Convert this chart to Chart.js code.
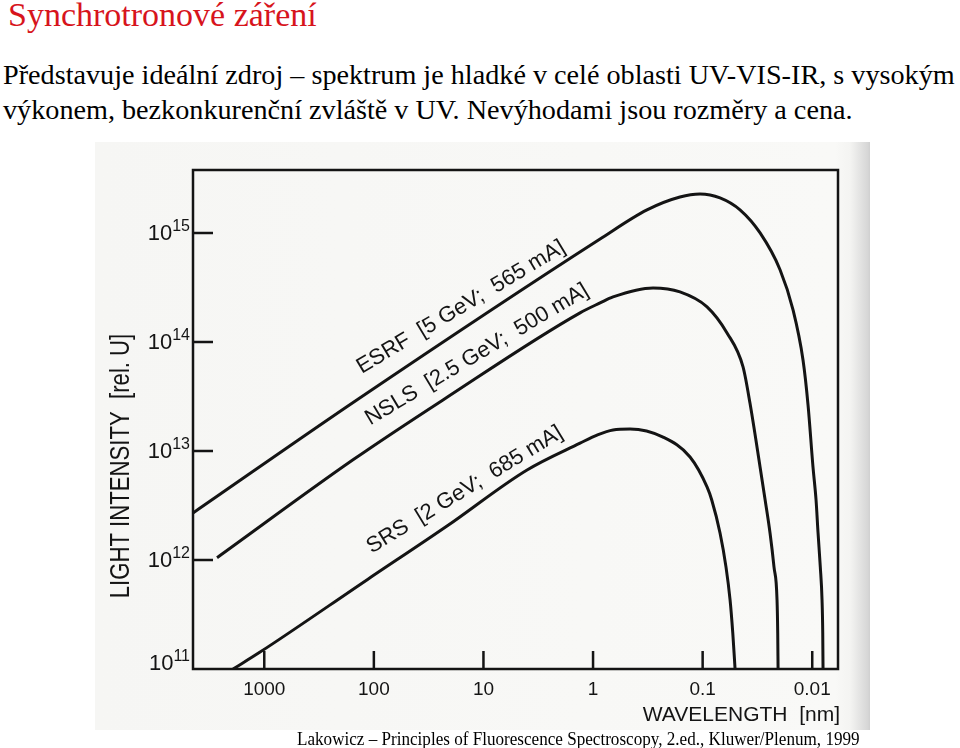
<!DOCTYPE html>
<html>
<head>
<meta charset="utf-8">
<script src="https://cdn.jsdelivr.net/npm/chart.js@4.4.1/dist/chart.umd.min.js"></script>
<style>
  html, body { margin: 0; padding: 0; background: #ffffff; }
  body { width: 960px; height: 748px; position: relative; overflow: hidden; }
  .serif { font-family: "Liberation Serif", "Times New Roman", Times, serif; position: absolute; white-space: nowrap; line-height: 1; }
  #title { left: 8px; top: -2px; font-size: 34px; color: #d7141c; }
  #p1 { left: 3px; top: 61px; font-size: 28.2px; color: #000; }
  #p2 { left: 3px; top: 96px; font-size: 28.2px; color: #000; }
  #scan { position: absolute; left: 95px; top: 142px; width: 775px; height: 588px;
          background: linear-gradient(to right, #f6f6f4 0px, #f9f9f7 740px, #f4f4f2 755px, #d6d6d6 773px, #cfcfcf 775px); }
  #wrap { position: absolute; left: 95px; top: 140px; width: 775px; height: 598px; }
  #caption { left: 297px; top: 729px; font-size: 19px; color: #000; transform: scaleX(0.9); transform-origin: 0 0; }
</style>
</head>
<body>
<div id="title" class="serif">Synchrotronové záření</div>
<div id="p1" class="serif">Představuje ideální zdroj – spektrum je hladké v celé oblasti UV-VIS-IR, s vysokým</div>
<div id="p2" class="serif">výkonem, bezkonkurenční zvláště v UV. Nevýhodami jsou rozměry a cena.</div>
<div id="scan"></div>
<div id="wrap"><canvas id="c" width="775" height="598"></canvas></div>
<div id="caption" class="serif">Lakowicz – Principles of Fluorescence Spectroscopy, 2.ed., Kluwer/Plenum, 1999</div>
<script>
// ---------- data (wavelength in nm, intensity in rel. units) ----------
const esrfWavelength = [4470, 142, 0.863, 0.322, 0.161, 0.1057, 0.0694, 0.0456, 0.0299, 0.01967, 0.01497, 0.01213, 0.01092, 0.00984, 0.00923, 0.00885, 0.00844, 0.00814, 0.00802, 0.00797];
const esrfIntensity  = [2.7e12, 2.95e13, 8.8e14, 1.63e15, 2.14e15, 2.28e15, 2.10e15, 1.63e15, 1.0e15, 4.6e14, 1.97e14, 6.8e13, 2.64e13, 7.1e12, 3.55e12, 1.77e12, 8.6e11, 4.3e11, 2.14e11, 1.0e11];

const nslsWavelength = [2697, 155, 23.4, 1.314, 0.863, 0.657, 0.2836, 0.161, 0.0912, 0.0599, 0.0428, 0.0370, 0.0299, 0.0269, 0.02427, 0.02232, 0.02095, 0.02065, 0.0205];
const nslsIntensity  = [1.05e12, 8.3e12, 2.94e13, 1.85e14, 2.28e14, 2.59e14, 3.13e14, 2.88e14, 2.10e14, 1.21e14, 5.9e13, 2.75e13, 7.1e12, 3.55e12, 1.77e12, 8.6e11, 4.3e11, 2.14e11, 1.0e11];

const srsWavelength = [1927, 1092, 115, 21.5, 4.0, 1.314, 0.919, 0.657, 0.4597, 0.2297, 0.1303, 0.0912, 0.0826, 0.0694, 0.0612, 0.0562, 0.0531, 0.0506];
const srsIntensity  = [1.0e11, 1.43e11, 6.6e11, 2.05e12, 6.7e12, 1.18e13, 1.40e13, 1.56e13, 1.59e13, 1.34e13, 8.8e12, 4.68e12, 3.55e12, 1.77e12, 8.6e11, 4.3e11, 2.14e11, 1.0e11];

const seriesNames = ['ESRF  [5 GeV;  565 mA]', 'NSLS  [2.5 GeV;  500 mA]', 'SRS  [2 GeV;  685 mA]'];

const xTickValues = [1000, 100, 10, 1, 0.1, 0.01];
const xTickLabels = ['1000', '100', '10', '1', '0.1', '0.01'];
const yTickValues = [1e11, 1e12, 1e13, 1e14, 1e15];
const yTickBase = '10';
const yTickExponents = ['11', '12', '13', '14', '15'];

const xTitle = 'WAVELENGTH  [nm]';
const yTitle = 'LIGHT INTENSITY  [rel. U]';
// ----------------------------------------------------------------------

function pts(w, v) { return w.map((x, i) => ({ x: x, y: v[i] })); }

const INK = '#141414';
const SANS = '"Liberation Sans", Arial, Helvetica, sans-serif';

// label placement along curves (anchor wavelength, chord indices for angle)
const labelCfg = [
  { ds: 0, anchor: 105, chord: [1, 2], off: 19, tilt: 2.5 },
  { ds: 1, anchor: 88,  chord: [1, 3], off: 19, tilt: 2 },
  { ds: 2, anchor: 85,  chord: [2, 3], off: 19, tilt: 2.5 }
];

const decorPlugin = {
  id: 'decor',
  afterDatasetsDraw(chart) {
    const ctx = chart.ctx;
    const ca = chart.chartArea;
    const xs = chart.scales.x, ys = chart.scales.y;
    ctx.save();
    // frame
    ctx.strokeStyle = INK;
    ctx.lineWidth = 2.5;
    ctx.strokeRect(ca.left, ca.top, ca.right - ca.left, ca.bottom - ca.top);
    // inward ticks
    ctx.beginPath();
    yTickValues.forEach(v => {
      if (v <= ys.min) return;
      const y = ys.getPixelForValue(v);
      ctx.moveTo(ca.left, y); ctx.lineTo(ca.left + 20, y);
    });
    xTickValues.forEach(v => {
      const x = xs.getPixelForValue(v);
      ctx.moveTo(x, ca.bottom); ctx.lineTo(x, ca.bottom - 18);
    });
    ctx.stroke();

    ctx.fillStyle = INK;
    // y tick labels with superscript exponents
    ctx.textAlign = 'right';
    ctx.textBaseline = 'middle';
    yTickValues.forEach((v, i) => {
      const y = ys.getPixelForValue(v) - (i === 0 ? 6 : 0);
      ctx.font = '16px ' + SANS;
      const ew = ctx.measureText(yTickExponents[i]).width;
      ctx.fillText(yTickExponents[i], ca.left - 3, y - 6);
      ctx.font = '22px ' + SANS;
      ctx.fillText(yTickBase, ca.left - 3 - ew, y + 1);
    });

    // curve labels
    ctx.font = '22px ' + SANS;
    ctx.textAlign = 'left';
    ctx.textBaseline = 'alphabetic';
    labelCfg.forEach((c, k) => {
      const p = chart.getDatasetMeta(c.ds).data;
      const a = Math.atan2(p[c.chord[1]].y - p[c.chord[0]].y, p[c.chord[1]].x - p[c.chord[0]].x) + c.tilt * Math.PI / 180;
      const fx = xs.getPixelForValue(c.anchor);
      let fy = p[0].y;
      for (let i = 0; i < p.length - 1; i++) {
        if (p[i].x <= fx && p[i + 1].x >= fx) {
          const t = (fx - p[i].x) / (p[i + 1].x - p[i].x);
          fy = p[i].y + t * (p[i + 1].y - p[i].y);
          break;
        }
      }
      const nx = Math.sin(a), ny = -Math.cos(a);
      ctx.save();
      ctx.translate(fx + nx * c.off, fy + ny * c.off);
      ctx.rotate(a);
      ctx.fillText(seriesNames[k], 0, 0);
      ctx.restore();
    });

    // x axis title
    ctx.font = '21px ' + SANS;
    ctx.textAlign = 'right';
    ctx.textBaseline = 'middle';
    ctx.fillText(xTitle, ca.right + 2, ca.bottom + 46);

    // y axis title
    ctx.save();
    ctx.font = '27px ' + SANS;
    ctx.textAlign = 'center';
    ctx.textBaseline = 'middle';
    ctx.translate(ca.left - 71, ca.bottom - 203);
    ctx.rotate(-Math.PI / 2);
    ctx.scale(0.82, 1);
    ctx.fillText(yTitle, 0, 0);
    ctx.restore();
    ctx.restore();
  }
};

const lineStyle = { borderColor: INK, borderWidth: 3, pointRadius: 0, cubicInterpolationMode: 'monotone', fill: false };

new Chart(document.getElementById('c'), {
  type: 'line',
  data: {
    datasets: [
      Object.assign({ label: seriesNames[0], data: pts(esrfWavelength, esrfIntensity) }, lineStyle),
      Object.assign({ label: seriesNames[1], data: pts(nslsWavelength, nslsIntensity) }, lineStyle),
      Object.assign({ label: seriesNames[2], data: pts(srsWavelength, srsIntensity) }, lineStyle)
    ]
  },
  options: {
    responsive: false,
    animation: false,
    devicePixelRatio: 1,
    layout: { padding: { left: 0, right: 32, top: 30, bottom: 0 } },
    plugins: { legend: { display: false }, tooltip: { enabled: false }, title: { display: false } },
    scales: {
      x: {
        type: 'logarithmic',
        reverse: true,
        min: 0.00582,
        max: 4470,
        afterBuildTicks: s => { s.ticks = xTickValues.slice().reverse().map(v => ({ value: v })); },
        afterFit: s => { s.height = 69; },
        grid: { display: false, drawTicks: false },
        border: { display: false },
        ticks: {
          autoSkip: false, maxRotation: 0, padding: 9, color: INK,
          font: { family: SANS, size: 19 },
          callback: v => xTickLabels[xTickValues.indexOf(v)]
        },
        title: { display: false }
      },
      y: {
        type: 'logarithmic',
        min: 1e11,
        max: 3.78e15,
        afterBuildTicks: s => { s.ticks = yTickValues.map(v => ({ value: v })); },
        afterFit: s => { s.width = 98; },
        grid: { display: false, drawTicks: false },
        border: { display: false },
        ticks: { display: false }
      }
    }
  },
  plugins: [decorPlugin]
});
</script>
</body>
</html>
